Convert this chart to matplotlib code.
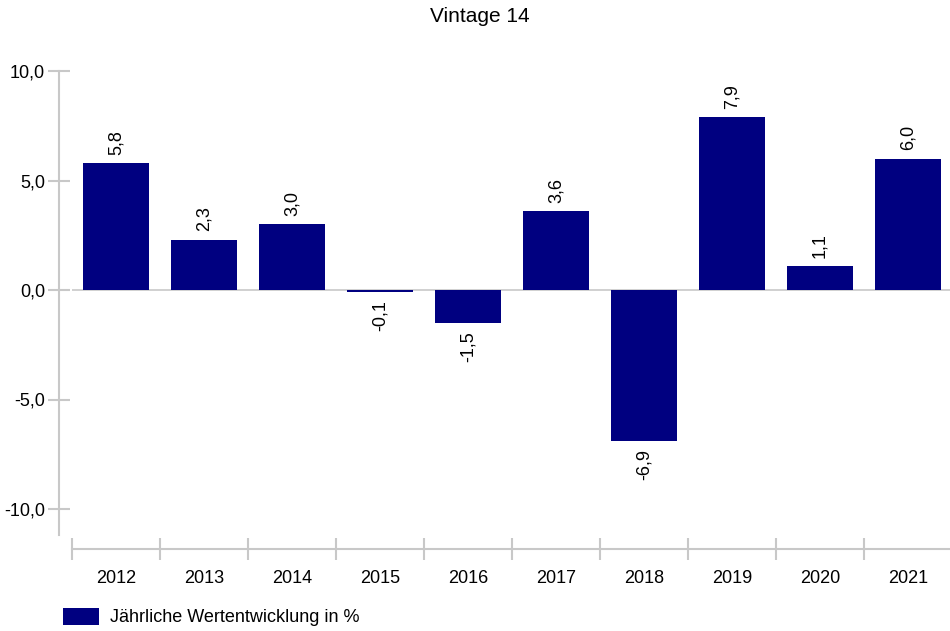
import matplotlib
matplotlib.use("Agg")
import matplotlib.pyplot as plt
from matplotlib.patches import Patch
from matplotlib.ticker import FuncFormatter, FixedLocator

years = ["2012", "2013", "2014", "2015", "2016", "2017", "2018", "2019", "2020", "2021"]
values = [5.8, 2.3, 3.0, -0.1, -1.5, 3.6, -6.9, 7.9, 1.1, 6.0]
title = "Vintage 14"
legend_label = "Jährliche Wertentwicklung in %"
yticks = [-10, -5, 0, 5, 10]

plt.rcParams['font.family'] = ['Liberation Sans', 'DejaVu Sans']
W, H = 950, 631
fig = plt.figure(figsize=(W / 100, H / 100), dpi=100)

ax_left, ax_right = 72, 952
ax_top, ax_bot = 71, 549
ax = fig.add_axes([ax_left / W, 1 - ax_bot / H, (ax_right - ax_left) / W, (ax_bot - ax_top) / H])

navy = "#000080"
gray = "#c8c8c8"
x = list(range(len(years)))
ax.bar(x, values, width=0.76, color=navy, zorder=3)
ax.axhline(0, color=gray, lw=1.2, zorder=2)

ymax = 10
ymin = 10 - (ax_bot - ax_top) / 21.9
ax.set_ylim(ymin, ymax)
ax.set_xlim(-0.5, len(years) - 0.5)

for xi, v in zip(x, values):
    lab = f"{v:.1f}".replace(".", ",")
    if v >= 0:
        ax.annotate(lab, (xi, v), xytext=(0, 6), textcoords="offset points",
                    rotation=90, ha="center", va="bottom", fontsize=13)
    else:
        ax.annotate(lab, (xi, v), xytext=(0, -6), textcoords="offset points",
                    rotation=90, ha="center", va="top", fontsize=13)

for s in ["top", "right"]:
    ax.spines[s].set_visible(False)
ax.spines["left"].set_position(("outward", 9.4))
ax.spines["left"].set_bounds(-11.2, 10)
ax.spines["left"].set_color(gray)
ax.spines["left"].set_linewidth(1.5)
ax.spines["bottom"].set_color(gray)
ax.spines["bottom"].set_linewidth(1.5)

ax.set_yticks(yticks)
ax.yaxis.set_major_formatter(FuncFormatter(lambda v, p: f"{v:.1f}".replace(".", ",")))
ax.tick_params(axis="y", direction="inout", length=16, width=1.5, color=gray,
               labelsize=13, pad=2)

ax.set_xticks(x)
ax.set_xticklabels(years)
ax.xaxis.set_minor_locator(FixedLocator([i - 0.5 for i in range(len(years) + 1)]))
ax.tick_params(axis="x", which="major", length=0, labelsize=13, pad=15)
ax.tick_params(axis="x", which="minor", direction="inout", length=16, width=1.5, color=gray)

fig.text(480 / W, 1 - 17 / H, title, ha="center", va="center", fontsize=15)

fig.legend(handles=[Patch(facecolor=navy, label=legend_label)], loc="center left",
           bbox_to_anchor=(47 / W, 1 - 617 / H), frameon=False, fontsize=13,
           handlelength=2.0, handleheight=1.1, handletextpad=0.6)

fig.savefig("out.png", dpi=100)
